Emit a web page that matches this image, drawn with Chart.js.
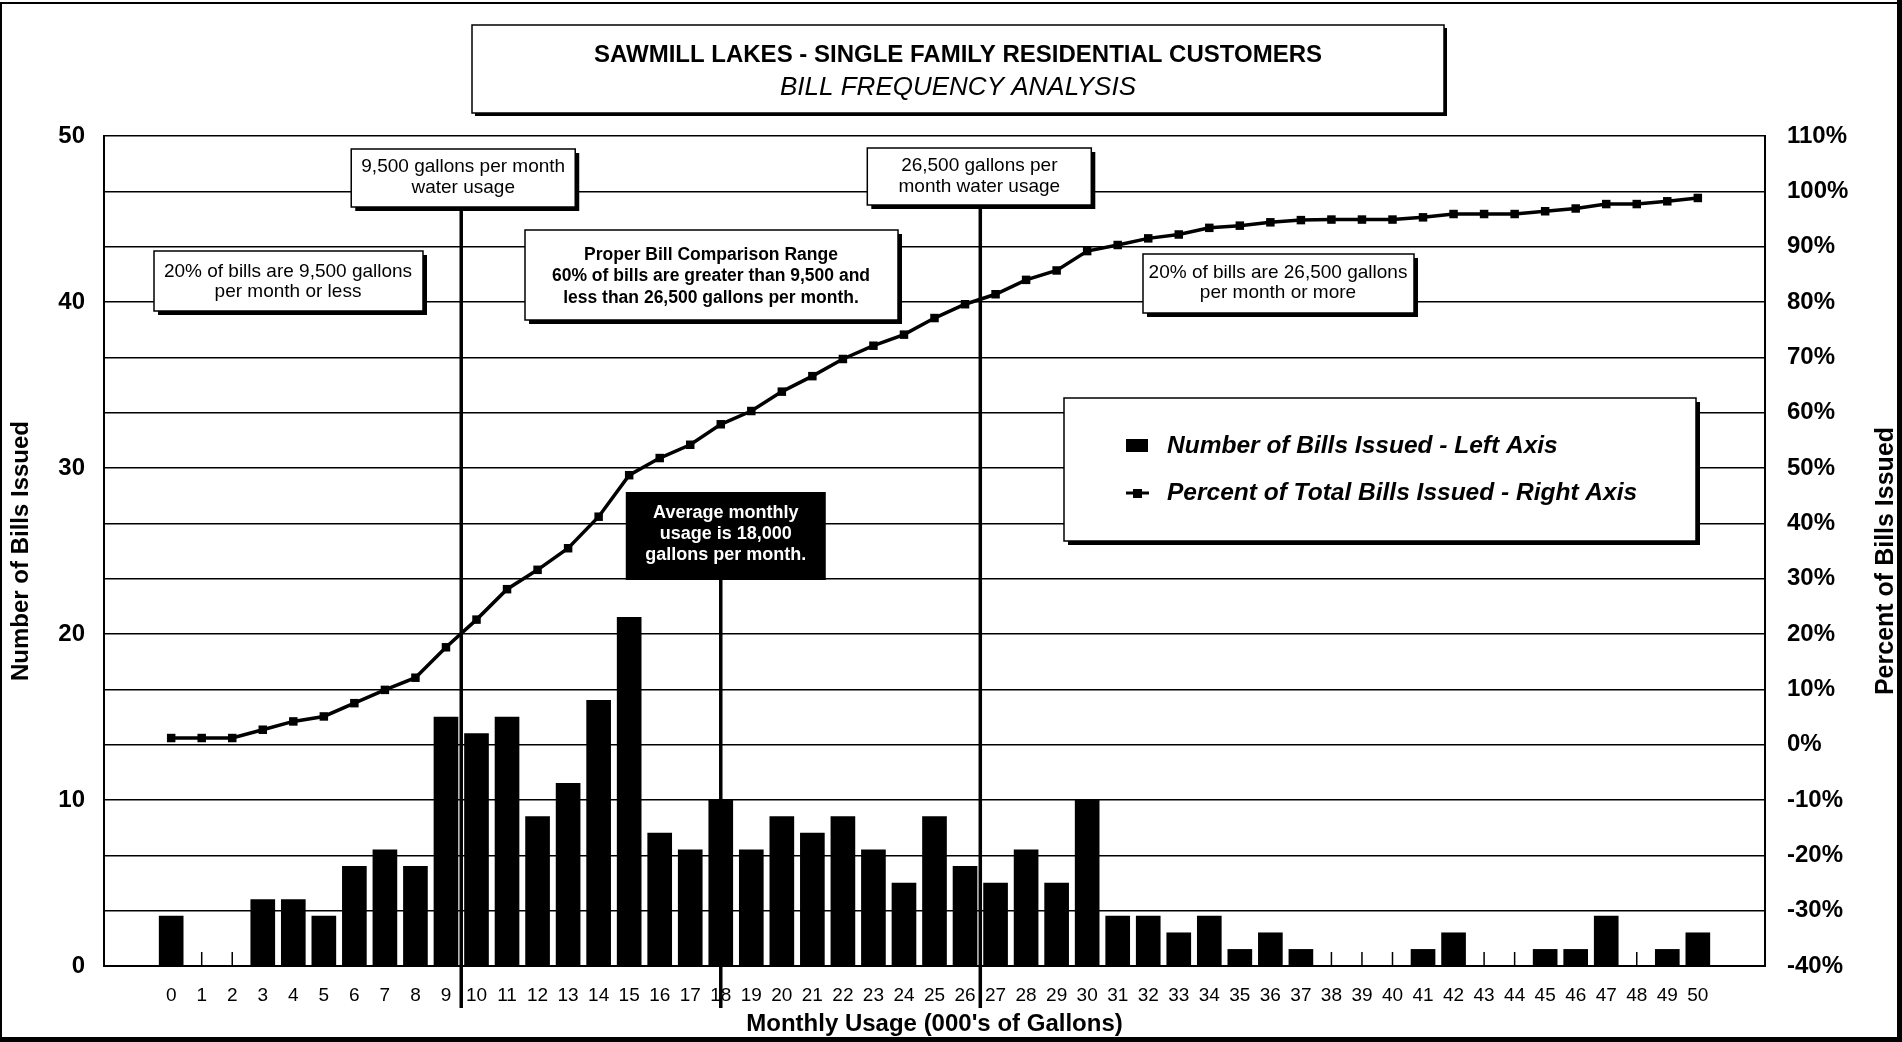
<!DOCTYPE html>
<html>
<head>
<meta charset="utf-8">
<title>Sawmill Lakes - Bill Frequency Analysis</title>
<script src="https://cdn.jsdelivr.net/npm/chart.js@4.4.1/dist/chart.umd.min.js"></script>
<style>
  html, body { margin: 0; padding: 0; background: #fff; }
  canvas { display: block; }
</style>
</head>
<body>
<canvas id="billChart" width="1902" height="1042"></canvas>
<script>
// Monthly usage buckets (thousands of gallons)
const usage = [0,1,2,3,4,5,6,7,8,9,10,11,12,13,14,15,16,17,18,19,20,21,22,23,24,25,
  26,27,28,29,30,31,32,33,34,35,36,37,38,39,40,41,42,43,44,45,46,47,48,49,50];

// Number of bills issued in each bucket (left axis)
const billsIssued = [3,0,0,4,4,3,6,7,6,15,14,15,9,11,16,21,8,7,10,7,9,8,9,7,5,9,
  6,5,7,5,10,3,3,2,3,1,2,1,0,0,0,1,2,0,0,1,1,3,0,1,2];

// Cumulative percent of total bills issued (right axis)
const cumulativePct = [1.2,1.2,1.2,2.7,4.2,5.1,7.5,9.9,12.1,17.6,22.6,28.1,31.6,35.5,41.2,
  48.7,51.8,54.2,57.9,60.3,63.8,66.6,69.7,72.1,74.1,77.1,79.6,81.4,84.0,85.7,89.2,90.3,
  91.5,92.2,93.4,93.8,94.4,94.8,94.9,94.9,94.9,95.3,95.9,95.9,95.9,96.4,96.9,97.7,97.7,98.2,98.8];

// Axis tick values
const leftTicks = [0,10,20,30,40,50];
const rightTicks = [-40,-30,-20,-10,0,10,20,30,40,50,60,70,80,90,100,110];

// Reference usage levels (thousands of gallons)
const lowBoundary = 9.5;
const averageUsage = 18;
const highBoundary = 26.5;

const FONT = "'Liberation Sans', Arial, Helvetica, sans-serif";
Chart.defaults.font.family = FONT;
Chart.defaults.color = '#000';

function shadowBox(ctx, x, y, w, h, fill, shadow) {
  ctx.save();
  ctx.fillStyle = '#000';
  ctx.fillRect(x + shadow, y + shadow, w, h);
  ctx.fillStyle = fill;
  ctx.fillRect(x, y, w, h);
  ctx.strokeStyle = '#000';
  ctx.lineWidth = 1.5;
  ctx.strokeRect(x, y, w, h);
  ctx.restore();
}

function textLines(ctx, lines, cx, firstY, step, font, color) {
  ctx.save();
  ctx.font = font;
  ctx.fillStyle = color;
  ctx.textAlign = 'center';
  ctx.textBaseline = 'middle';
  lines.forEach((t, i) => ctx.fillText(t, cx, firstY + i * step));
  ctx.restore();
}

// White page, outer frame and the title panel
const pagePlugin = {
  id: 'page',
  beforeDraw(chart) {
    const ctx = chart.ctx;
    ctx.save();
    ctx.fillStyle = '#fff';
    ctx.fillRect(0, 0, chart.width, chart.height);
    ctx.fillStyle = '#000';
    ctx.fillRect(0, 2, chart.width, 2);
    ctx.fillRect(0, 2, 2, chart.height);
    ctx.fillRect(chart.width - 5, 0, 5, chart.height);
    ctx.fillRect(0, chart.height - 5, chart.width, 5);
    ctx.restore();

    shadowBox(ctx, 472, 25, 972, 88, '#fff', 3);
    textLines(ctx, ['SAWMILL LAKES - SINGLE FAMILY RESIDENTIAL CUSTOMERS'], 958, 55, 0, 'bold 24px ' + FONT, '#000');
    textLines(ctx, ['BILL FREQUENCY ANALYSIS'], 958, 88, 0, 'italic 26px ' + FONT, '#000');
  }
};

// Small tick marks at every usage bucket along the bottom of the plot
const bucketTicksPlugin = {
  id: 'bucketTicks',
  beforeDatasetsDraw(chart) {
    const { ctx, chartArea, scales } = chart;
    ctx.save();
    ctx.strokeStyle = '#000';
    ctx.lineWidth = 1.5;
    usage.forEach(u => {
      const px = scales.x.getPixelForValue(u);
      ctx.beginPath();
      ctx.moveTo(px, chartArea.bottom);
      ctx.lineTo(px, chartArea.bottom - 14);
      ctx.stroke();
    });
    ctx.restore();
  }
};

// Reference lines, call-out boxes, legend panel and right axis title
const calloutPlugin = {
  id: 'callouts',
  afterDatasetsDraw(chart) {
    const { ctx, chartArea, scales } = chart;
    const xs = scales.x;
    const lineBottom = chartArea.bottom + 42;

    const vline = (value, top) => {
      const px = xs.getPixelForValue(value);
      ctx.save();
      ctx.strokeStyle = '#000';
      ctx.lineWidth = 3.5;
      ctx.beginPath();
      ctx.moveTo(px, top);
      ctx.lineTo(px, lineBottom);
      ctx.stroke();
      ctx.restore();
      return px;
    };

    const lowX = vline(lowBoundary, 200);
    const highX = vline(highBoundary, 200);
    const avgX = vline(averageUsage, 575);

    const reg = '19px ' + FONT;
    const bold = 'bold 17.5px ' + FONT;

    // 9,500 gallons marker label
    shadowBox(ctx, lowX - 110, 149, 224, 58, '#fff', 4);
    textLines(ctx, ['9,500 gallons per month', 'water usage'], lowX + 2, 167, 21, reg, '#000');

    // 26,500 gallons marker label
    shadowBox(ctx, highX - 113, 148, 224, 57, '#fff', 4);
    textLines(ctx, ['26,500 gallons per', 'month water usage'], highX - 1, 166, 21, reg, '#000');

    // Average usage label
    ctx.save();
    ctx.fillStyle = '#000';
    ctx.fillRect(avgX - 95, 492, 200, 88);
    ctx.restore();
    textLines(ctx, ['Average monthly', 'usage is 18,000', 'gallons per month.'], avgX + 5, 513, 21, 'bold 18px ' + FONT, '#fff');

    // Lower 20% note
    shadowBox(ctx, 154, 251, 269, 60, '#fff', 4);
    textLines(ctx, ['20% of bills are 9,500 gallons', 'per month or less'], 288, 272, 20, reg, '#000');

    // Comparison range note
    shadowBox(ctx, 525, 230, 373, 90, '#fff', 4);
    textLines(ctx, ['Proper Bill Comparison Range', '60% of bills are greater than 9,500 and',
      'less than 26,500 gallons per month.'], 711, 255, 21.5, bold, '#000');

    // Upper 20% note
    shadowBox(ctx, 1143, 254, 271, 59, '#fff', 4);
    textLines(ctx, ['20% of bills are 26,500 gallons', 'per month or more'], 1278, 273, 20, reg, '#000');

    // Legend panel
    shadowBox(ctx, 1064, 398, 632, 143, '#fff', 4);
    ctx.save();
    ctx.fillStyle = '#000';
    ctx.fillRect(1126, 439, 22, 13);
    ctx.strokeStyle = '#000';
    ctx.lineWidth = 3;
    ctx.beginPath();
    ctx.moveTo(1126, 493);
    ctx.lineTo(1149, 493);
    ctx.stroke();
    ctx.fillRect(1133, 489, 9, 9);
    ctx.font = 'italic bold 24.5px ' + FONT;
    ctx.textAlign = 'left';
    ctx.textBaseline = 'middle';
    chart.data.datasets.slice().reverse().forEach((ds, i) => {
      ctx.fillText(ds.label, 1167, 446 + i * 47);
    });
    ctx.restore();

    // Right axis title, reading bottom to top
    ctx.save();
    ctx.translate(1886, (chartArea.top + chartArea.bottom) / 2 + 10);
    ctx.rotate(-Math.PI / 2);
    ctx.font = 'bold 25px ' + FONT;
    ctx.fillStyle = '#000';
    ctx.textAlign = 'center';
    ctx.textBaseline = 'middle';
    ctx.fillText('Percent of Bills Issued', 0, 0);
    ctx.restore();
  }
};

new Chart(document.getElementById('billChart'), {
  type: 'bar',
  data: {
    datasets: [
      {
        type: 'line',
        label: 'Percent of Total Bills Issued - Right Axis',
        data: usage.map((u, i) => ({ x: u, y: cumulativePct[i] })),
        yAxisID: 'y1',
        borderColor: '#000',
        borderWidth: 3.5,
        pointStyle: 'rect',
        pointRadius: 6,
        pointBackgroundColor: '#000',
        pointBorderWidth: 0,
        tension: 0,
        order: 0
      },
      {
        type: 'bar',
        label: 'Number of Bills Issued - Left Axis',
        data: usage.map((u, i) => ({ x: u, y: billsIssued[i] })),
        yAxisID: 'y',
        backgroundColor: '#000',
        borderWidth: 0,
        barThickness: 24,
        order: 1
      }
    ]
  },
  options: {
    responsive: false,
    animation: false,
    events: [],
    devicePixelRatio: 1,
    layout: { padding: { top: 136, left: 0, right: 0, bottom: 0 } },
    plugins: { legend: { display: false }, tooltip: { enabled: false }, title: { display: false } },
    scales: {
      x: {
        type: 'linear',
        min: -2.2,
        max: 52.2,
        offset: false,
        afterBuildTicks: s => { s.ticks = usage.map(v => ({ value: v })); },
        grid: { display: false, drawTicks: false, offset: false },
        border: { display: true, color: '#000', width: 2 },
        ticks: { color: '#000', font: { size: 19 }, padding: 18, autoSkip: false, maxRotation: 0, callback: v => String(v) },
        title: { display: true, text: "Monthly Usage (000's of Gallons)", color: '#000',
          font: { size: 24, weight: 'bold' }, padding: { top: 0, bottom: 3 } },
        afterFit: s => { s.height = 76; }
      },
      y: {
        position: 'left',
        min: 0,
        max: 50,
        afterBuildTicks: s => { s.ticks = leftTicks.map(v => ({ value: v })); },
        grid: { display: false, drawTicks: false },
        border: { display: true, color: '#000', width: 2 },
        ticks: { color: '#000', font: { size: 24, weight: 'bold' }, padding: 19 },
        title: { display: true, text: 'Number of Bills Issued', color: '#000',
          font: { size: 24, weight: 'bold' }, padding: { top: 7, bottom: 0 } },
        afterFit: s => { s.width = 104; }
      },
      y1: {
        position: 'right',
        min: -40,
        max: 110,
        afterBuildTicks: s => { s.ticks = rightTicks.map(v => ({ value: v })); },
        grid: { color: '#000', lineWidth: 1.5, drawTicks: false },
        border: { display: true, color: '#000', width: 2 },
        ticks: { color: '#000', font: { size: 24, weight: 'bold' }, padding: 22, callback: v => v + '%' },
        title: { display: false },
        afterFit: s => { s.width = 137; }
      }
    }
  },
  plugins: [pagePlugin, bucketTicksPlugin, calloutPlugin]
});
</script>
</body>
</html>
